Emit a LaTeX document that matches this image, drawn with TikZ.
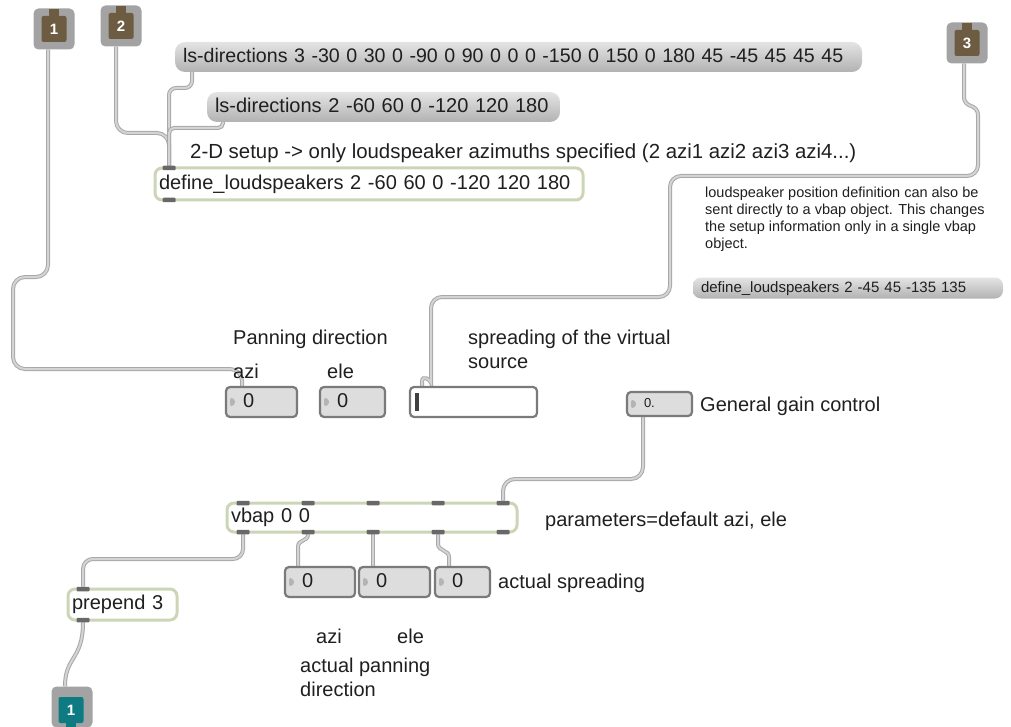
\documentclass[tikz,border=0pt]{standalone}
\usepackage{fontspec}
\setmainfont{Liberation Sans}
\usetikzlibrary{positioning, calc, backgrounds}

\definecolor{objedge}{RGB}{204,214,182}
\definecolor{portgray}{RGB}{104,104,104}
\definecolor{msgtop}{RGB}{228,228,228}
\definecolor{msgbot}{RGB}{178,178,178}
\definecolor{numfill}{RGB}{221,221,221}
\definecolor{numedge}{RGB}{122,122,122}
\definecolor{numtri}{RGB}{180,180,180}
\definecolor{padgray}{RGB}{163,163,163}
\definecolor{inbrown}{RGB}{109,92,66}
\definecolor{outteal}{RGB}{14,122,129}
\definecolor{cordedge}{RGB}{168,168,168}
\definecolor{cordfill}{RGB}{212,212,212}

\newcommand{\numval}[1]{\hspace*{14pt}#1}

\begin{document}
\begin{tikzpicture}[x=1pt, y=-1pt,
    font=\fontsize{20}{24}\selectfont, text=black!88,
    objbox/.style={rectangle, draw=objedge, line width=3pt, fill=white, rounded corners=7pt, minimum height=30pt, inner xsep=4pt, inner ysep=0pt, outer sep=0pt, align=left, anchor=west, text height=15pt, text depth=4.5pt},
    msgbox/.style={rectangle, rounded corners=10pt, top color=msgtop, bottom color=msgbot, minimum height=30pt, inner xsep=8pt, inner ysep=0pt, outer sep=0pt, align=left, anchor=west, text height=15pt, text depth=4.5pt},
    numbox/.style={rectangle, draw=numedge, fill=numfill, line width=2.2pt, rounded corners=4pt, minimum height=30pt, inner xsep=3pt, inner ysep=0pt, outer sep=0pt, align=left, anchor=north west, text height=15pt, text depth=4.5pt,
        path picture={\fill[numtri] ([xshift=4pt,yshift=6pt]path picture bounding box.west) -- ++(0pt,-12pt) -- ++(7pt,6pt) -- cycle;}},
    sliderbox/.style={rectangle, draw=numedge, fill=white, line width=2.2pt, rounded corners=4pt, minimum height=30pt, inner sep=0pt, outer sep=0pt, anchor=north west},
    port/.style={rectangle, fill=portgray, minimum width=13pt, minimum height=4.5pt, inner sep=0pt, rounded corners=1pt},
    padbox/.style={rectangle, fill=padgray, rounded corners=5pt, minimum size=41pt, inner sep=0pt},
    padcore/.style={rectangle, rounded corners=2pt, minimum width=25pt, minimum height=26pt, inner sep=0pt, text=white, font=\fontsize{15}{15}\selectfont\bfseries},
    padtab/.style={rectangle, minimum width=10pt, minimum height=7pt, inner sep=0pt, outer sep=0pt},
    comment/.style={anchor=base west, inner sep=0pt},
    note/.style={anchor=north west, inner sep=0pt, align=left, font=\fontsize{14.5}{17}\selectfont},
    cord/.style={draw=cordedge, line width=1pt, double=cordfill, double distance=2pt}
]
\useasboundingbox (0,0) rectangle (1011,727);

% inlets and outlet
\node[padbox] (in1) at (54,29) {};
\node[padcore, fill=inbrown] (in1c) at (54,29) {1};
\node[padtab, fill=inbrown, above=0pt of in1c] {};
\node[padbox] (in2) at (121,26) {};
\node[padcore, fill=inbrown] (in2c) at (121,26) {2};
\node[padtab, fill=inbrown, above=0pt of in2c] {};
\node[padbox] (in3) at (967,43) {};
\node[padcore, fill=inbrown] (in3c) at (967,43) {3};
\node[padtab, fill=inbrown, above=0pt of in3c] {};
\node[padbox] (out1) at (72,707) {};
\node[padcore, fill=outteal] (out1c) at (71,710) {1};
\node[padtab, fill=outteal, below=0pt of out1c] {};

% speaker setup
\node[msgbox, text width=671pt, font=\fontsize{19.6}{24}\selectfont] (lsdir3) at (175,57) {ls-directions 3 -30 0 30 0 -90 0 90 0 0 0 -150 0 150 0 180 45 -45 45 45 45};
\node[msgbox, text width=337pt] (lsdir2) at (207,107) {ls-directions 2 -60 60 0 -120 120 180};
\node[comment, font=\fontsize{20.4}{24}\selectfont] (setuplbl) at (190,159) {2-D setup -> only loudspeaker azimuths specified (2 azi1 azi2 azi3 azi4...)};
\node[objbox, text width=420pt, minimum height=32pt] (defls) at (155,184) {define\_loudspeakers 2 -60 60 0 -120 120 180};

\node[note] (directnote) at (705,187) {loudspeaker position definition can also be\\sent directly to a vbap object. This changes\\the setup information only in a single vbap\\object.};
\node[msgbox, text width=294pt, minimum height=21pt, rounded corners=8pt, font=\fontsize{15}{18}\selectfont, text height=11pt, text depth=3pt] (lsdirect) at (693,288) {define\_loudspeakers 2 -45 45 -135 135};

% panning controls
\node[comment] (panlbl) at (233,344) {Panning direction};
\node[comment] (azilbl) at (233,378) {azi};
\node[comment] (elelbl) at (327,378) {ele};
\node[comment] (spreadlbl) at (468,344) {spreading of the virtual};
\node[comment] (sourcelbl) at (468,368) {source};
\node[numbox, text width=65pt] (azinum) at (226,387) {\numval{0}};
\node[numbox, text width=59pt] (elenum) at (320,387) {\numval{0}};
\node[sliderbox, minimum width=127pt] (spread) at (410,387) {};
\node[fill=black!75, minimum width=3.5pt, minimum height=18pt, inner sep=0pt, right=5pt of spread.west] (spreadbar) {};
\node[numbox, text width=59pt, minimum height=24pt, font=\fontsize{13}{15}\selectfont, text height=10pt, text depth=3pt] (gain) at (627,392) {\numval{0.}};
\node[comment] (gainlbl) at (700,411) {General gain control};

% vbap and outputs
\node[objbox, text width=282pt, minimum height=29pt] (vbap) at (227,517.5) {vbap 0 0};
\node[comment] (paramlbl) at (545,526) {parameters=default azi, ele};
\node[numbox, text width=64pt] (actazi) at (285,567) {\numval{0}};
\node[numbox, text width=65pt] (actele) at (359,567) {\numval{0}};
\node[numbox, text width=49pt] (actspread) at (435,567) {\numval{0}};
\node[comment] (actspreadlbl) at (498,588) {actual spreading};
\node[comment] (aziout) at (316,643) {azi};
\node[comment] (eleout) at (397,643) {ele};
\node[comment] (actpanlbl) at (300,672) {actual panning};
\node[comment] (dirlbl) at (300,696) {direction};
\node[objbox, text width=101pt, minimum height=31pt] (prepend) at (68,604.5) {prepend 3};

% ports
\node[port] (defin) at ([xshift=14pt]defls.north west) {};
\node[port] (defout) at ([xshift=14pt]defls.south west) {};
\foreach \i/\dx in {0/16, 1/81, 2/146, 3/211, 4/276} {
    \node[port] (vin\i) at ([xshift=\dx pt]vbap.north west) {};
    \node[port] (vout\i) at ([xshift=\dx pt]vbap.south west) {};
}
\node[port] (prein) at ([xshift=15pt]prepend.north west) {};
\node[port] (preout) at ([xshift=15pt]prepend.south west) {};
\coordinate (aziin) at ([xshift=16pt]azinum.north west);
\coordinate (spreadin) at ([xshift=12pt]spread.north west);
\coordinate (actaziin) at ([xshift=13pt]actazi.north west);
\coordinate (acteleIn) at ([xshift=14pt]actele.north west);
\coordinate (actspreadin) at ([xshift=14pt]actspread.north west);
\coordinate (out1in) at ([xshift=-7pt]out1.north);

% patch cords
\begin{scope}[on background layer]
\draw[cord, rounded corners=12pt] ([xshift=-6pt]in1.south) |- (13,277) |- ($(aziin)+(0,-18)$) -- (aziin);
\draw[cord, rounded corners=12pt] ([xshift=-5pt]in2.south) |- ($(defin)+(0,-35)$) -- (defin);
\draw[cord, rounded corners=7pt] ([xshift=17pt]lsdir3.south west) |- ($(defin)+(0,-80)$) -- (defin);
\draw[cord, rounded corners=5pt] ([xshift=16pt]lsdir2.south west) |- ($(defin)+(0,-40)$) -- (defin);
\draw[cord] ([xshift=-3pt]in3.south) -- (964,96) .. controls (964,110) and (978,102) .. (978,116)
    [rounded corners=11pt] -- (978,176) -- (670,176) -- (670,297) -- (431,297) -- (431,372)
    [sharp corners] .. controls (431,380) and (422,374) .. (422,382) -- (spreadin);
\draw[cord, rounded corners=12pt] ([xshift=16pt]gain.south west) |- ($(vin4)+(0,-24)$) -- (vin4);
\draw[cord, rounded corners=10pt] (vout0) |- ($(prein)+(0,-30)$) -- (prein);
\draw[cord] (vout1) .. controls +(0,10) and +(0,-8) .. ($(actaziin)+(0,-20)$) -- (actaziin);
\draw[cord] (vout2) -- (acteleIn);
\draw[cord] (vout3) -- ++(0,12) .. controls +(0,7) and +(0,-7) .. ($(actspreadin)+(0,-10)$) -- (actspreadin);
\draw[cord] (preout) .. controls +(0,40) and +(0,-30) .. (out1in);
\end{scope}

\end{tikzpicture}
\end{document}
